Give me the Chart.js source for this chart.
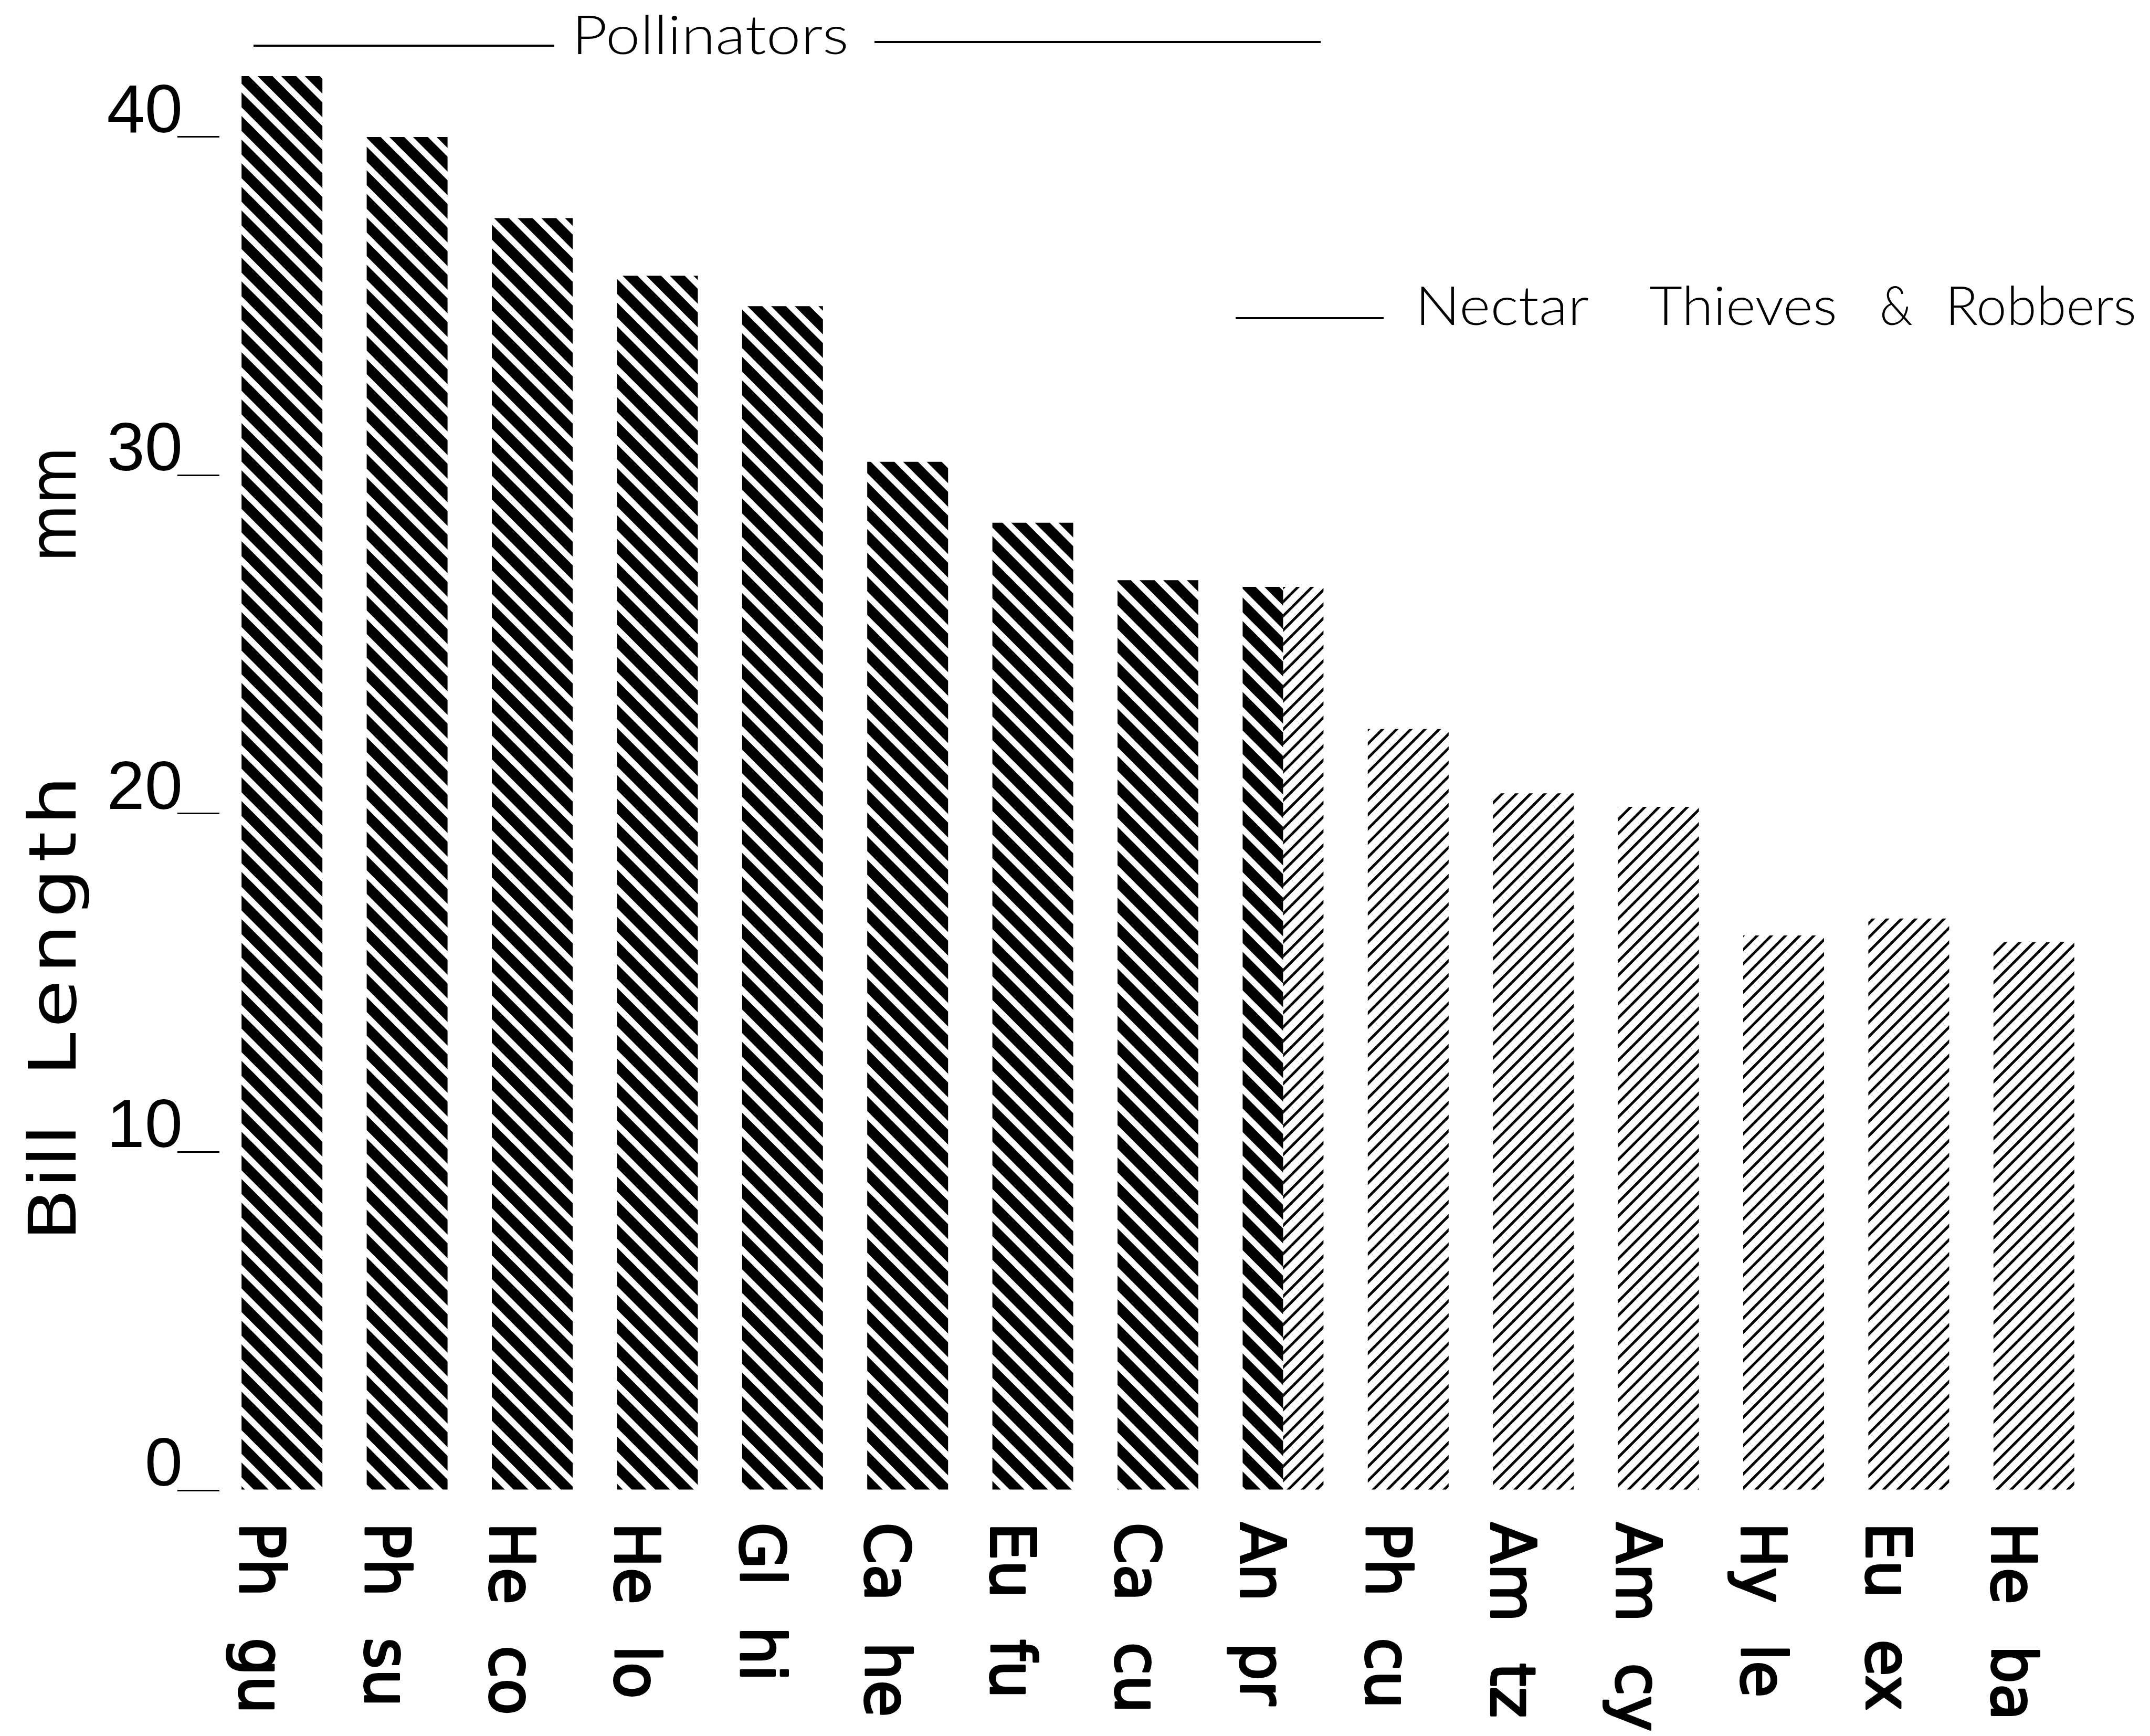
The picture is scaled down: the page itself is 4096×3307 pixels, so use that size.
<!DOCTYPE html>
<html>
<head>
<meta charset="utf-8">
<title>Bill length of hummingbirds</title>
<script src="https://cdn.jsdelivr.net/npm/chart.js@4.4.0/dist/chart.umd.min.js"></script>
<style>
  html, body { margin: 0; padding: 0; background: #fff; }
  #wrap { width: 4096px; height: 3307px; position: relative; }
</style>
</head>
<body>
<div id="wrap"><canvas id="myChart"></canvas></div>
<script>
// species codes, left to right
const species = ['Ph gu', 'Ph su', 'He co', 'He lo', 'Gl hi', 'Ca he', 'Eu fu', 'Ca cu',
  'An pr', 'Ph cu', 'Am tz', 'Am cy', 'Hy le', 'Eu ex', 'He ba'];
// bill length (mm); An pr belongs to both groups
const pollinators = [41.8, 40.0, 37.6, 35.9, 35.0, 30.4, 28.6, 26.9, 26.7,
  null, null, null, null, null, null];
const thieves = [null, null, null, null, null, null, null, null, 26.7,
  22.5, 20.6, 20.2, 16.4, 16.9, 16.2];
const yTicks = [0, 10, 20, 30, 40];
const yTitle = ['Bill', 'Length', 'mm'];
const groupLabels = ['Pollinators', 'Nectar Thieves & Robbers'];

// diagonal stripe fill, 'down' = \  and 'up' = /
function makeStripes(period, width, dir) {
  const c = document.createElement('canvas');
  c.width = period;
  c.height = period;
  const g = c.getContext('2d');
  g.strokeStyle = '#000';
  g.lineWidth = width;
  g.beginPath();
  for (let k = -2; k <= 2; k++) {
    if (dir === 'down') {
      g.moveTo(k * period - period, -period);
      g.lineTo(k * period + 2 * period, 2 * period);
    } else {
      g.moveTo(k * period - period, 2 * period);
      g.lineTo(k * period + 2 * period, -period);
    }
  }
  g.stroke();
  return g.createPattern(c, 'repeat');
}

const thickStripes = makeStripes(45, 20, 'down');
const thinStripes = makeStripes(27, 5, 'up');

// stretch or squeeze a word to a given length; past maxScale use letter spacing
function fitText(c, str, x, y, len, angle, maxScale) {
  c.save();
  c.translate(x, y);
  c.rotate(angle);
  const w = c.measureText(str).width;
  let s = len / w;
  if (maxScale && s > maxScale && str.length > 1) {
    const extra = (len / maxScale - w) / (str.length - 1);
    c.letterSpacing = extra + 'px';
    s = maxScale;
  }
  c.scale(s, 1);
  c.fillText(str, 0, 0);
  c.restore();
}

function hline(c, x1, x2, y) {
  c.beginPath();
  c.moveTo(x1, y);
  c.lineTo(x2, y);
  c.stroke();
}

const textPlugin = {
  id: 'textPlugin',
  afterDraw(chart) {
    const c = chart.ctx;
    const xs = chart.scales.x;
    c.save();
    c.fillStyle = '#000';
    c.strokeStyle = '#000';
    c.textAlign = 'left';
    c.textBaseline = 'alphabetic';
    c.lineJoin = 'round';

    // species labels, rotated to read downwards
    const sx = 0.97;
    c.font = '118px "DejaVu Sans", "Liberation Sans", sans-serif';
    c.lineWidth = 4;
    species.forEach(function (name, i) {
      const x = xs.getPixelForValue(i);
      const words = name.split(' ');
      c.save();
      c.translate(x - 80, 2900);
      c.rotate(Math.PI / 2);
      c.scale(sx, 1);
      const w = c.measureText(words[0]).width;
      c.fillText(words[0], 0, 0);
      c.strokeText(words[0], 0, 0);
      c.fillText(words[1], w + 78 / sx, 0);
      c.strokeText(words[1], w + 78 / sx, 0);
      c.restore();
    });

    // y axis title
    c.font = '124px "DejaVu Sans", "Liberation Sans", sans-serif';
    fitText(c, yTitle[0], 144, 2364, 222, -Math.PI / 2, 1.2);
    fitText(c, yTitle[1], 144, 2050, 572, -Math.PI / 2, 1.2);
    fitText(c, yTitle[2], 144, 1071, 220, -Math.PI / 2, 1.2);

    // group headings
    c.lineWidth = 4;
    c.font = '300 103px Lato, "Liberation Sans", sans-serif';
    hline(c, 483, 1056, 87);
    fitText(c, groupLabels[0], 1089, 103, 528, 0);
    hline(c, 1666, 2516, 80);

    hline(c, 2354, 2636, 606);
    const nw = groupLabels[1].split(' ');
    const nx = [2696, 3142, 3581, 3706];
    const nl = [331, 358, 63, 364];
    nw.forEach(function (wd, i) {
      fitText(c, wd, nx[i], 619, nl[i], 0);
    });
    c.restore();
  }
};

const ctx = document.getElementById('myChart').getContext('2d');
const myChart = new Chart(ctx, {
  type: 'bar',
  data: {
    labels: species,
    datasets: [
      {
        label: groupLabels[0],
        data: pollinators,
        backgroundColor: thickStripes,
        borderWidth: 0,
        skipNull: true,
      },
      {
        label: groupLabels[1],
        data: thieves,
        backgroundColor: thinStripes,
        borderWidth: 0,
        skipNull: true,
      },
    ],
  },
  options: {
    responsive: true,
    maintainAspectRatio: false,
    animation: false,
    devicePixelRatio: 1,
    layout: { padding: { top: 132, right: 102, left: 0, bottom: 0 } },
    datasets: { bar: { categoryPercentage: 0.646, barPercentage: 1 } },
    plugins: {
      legend: { display: false },
      tooltip: { enabled: false },
    },
    scales: {
      x: {
        grid: { display: false },
        border: { display: false },
        ticks: { display: false },
        afterFit: function (s) { s.height = 468; },
      },
      y: {
        min: 0,
        max: 42,
        border: { display: false },
        grid: {
          display: true,
          drawOnChartArea: false,
          drawTicks: true,
          tickLength: 80,
          color: '#000',
          lineWidth: 3,
        },
        ticks: {
          stepSize: 10,
          padding: -10,
          labelOffset: -45,
          color: '#000',
          font: { family: '"Liberation Sans", sans-serif', size: 130 },
        },
        afterBuildTicks: function (s) {
          s.ticks = yTicks.map(function (v) { return { value: v }; });
        },
        afterFit: function (s) { s.width = 418; },
      },
    },
  },
  plugins: [textPlugin],
});
</script>
</body>
</html>
